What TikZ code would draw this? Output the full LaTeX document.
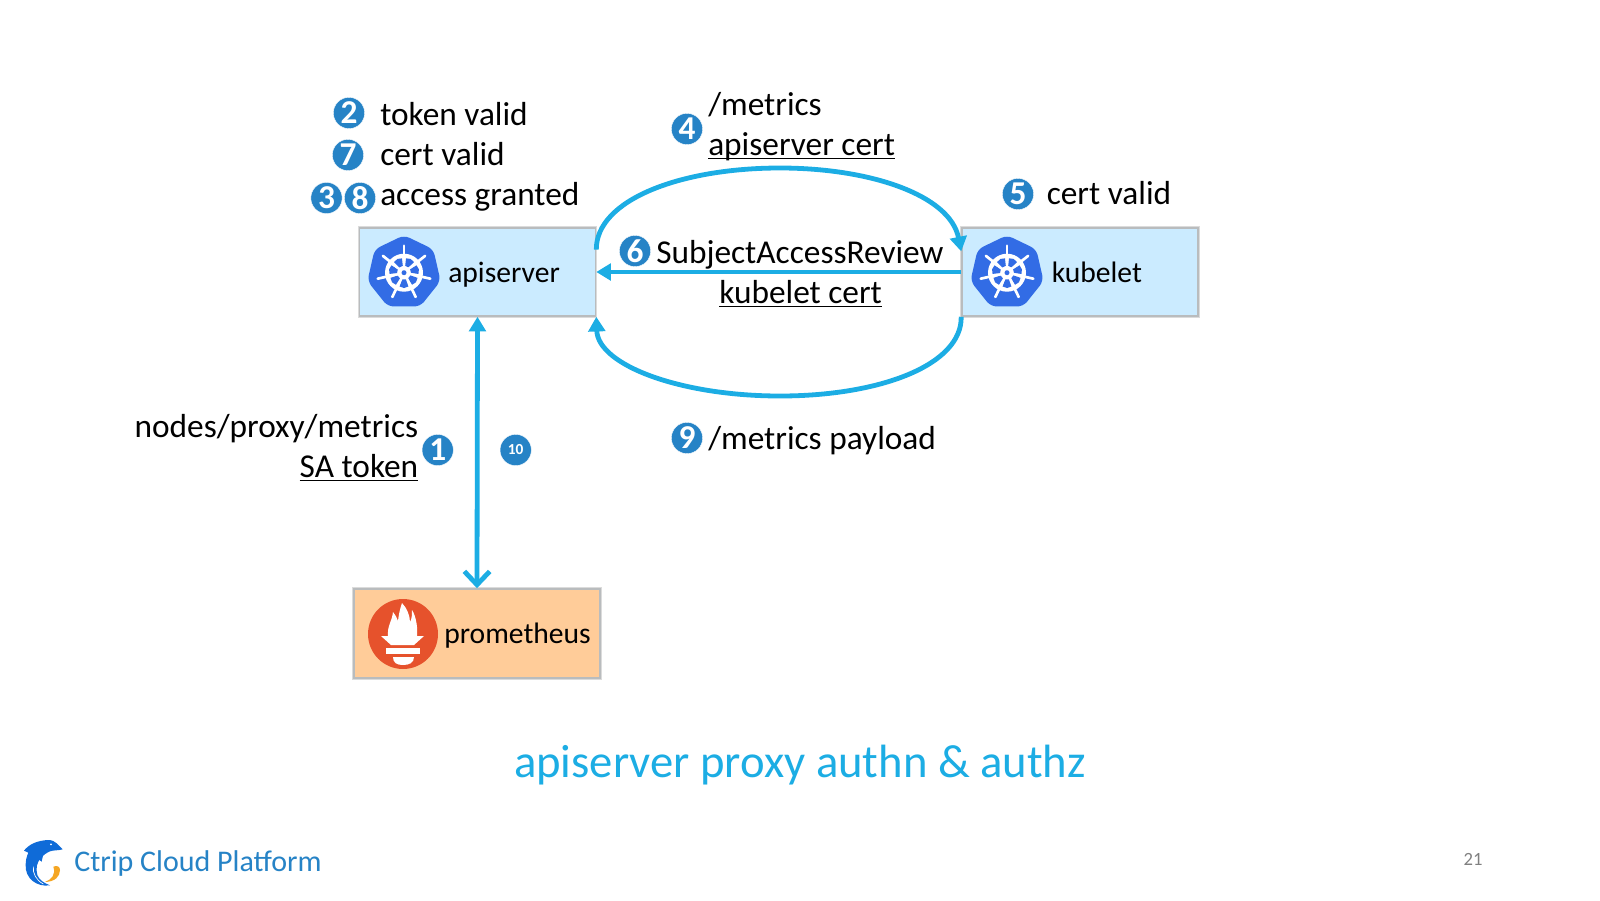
\documentclass[tikz,border=0pt]{standalone}
\usepackage{fontspec}
\setmainfont{Carlito}
\usetikzlibrary{arrows.meta,calc}
\definecolor{arrowblue}{HTML}{1CADE4}
\definecolor{badgeblue}{HTML}{2683C6}
\definecolor{boxblue}{HTML}{CBEBFF}
\definecolor{boxorange}{HTML}{FFCC99}
\definecolor{kubeblue}{HTML}{326CE5}
\definecolor{promred}{HTML}{E6522C}
\definecolor{edgegrey}{HTML}{B9BCBE}
\definecolor{logoblue}{HTML}{0F6BD8}
\definecolor{logoorange}{HTML}{F5A623}
\newcommand{\ulbar}[1]{\setbox0\hbox{#1}\rlap{\rule[-3.2pt]{\wd0}{1.1pt}}\box0 }
\newcommand{\helmicon}[2]{%
\begin{scope}[shift={(#1,#2)}]
\fill[kubeblue,rounded corners=4.5pt] (-90:37.5)--(-38.57:37.5)--(12.86:37.5)--(64.29:37.5)--(115.71:37.5)--(167.14:37.5)--(218.57:37.5)--cycle;
\fill[white] (0,0) circle (19);
\foreach \a in {-90,-38.57,12.86,64.29,115.71,167.14,218.57}{
\draw[white,line width=2pt,line cap=round] (0,0)--(\a:27);
\fill[kubeblue] (\a+10:7)--(\a+8:14.5)--(\a+25.7:15.3)--(\a+43.4:14.5)--(\a+41.4:7)--cycle;
}
\fill[white] (0,0) circle (5.5);
\fill[kubeblue] (0,0) circle (2.5);
\end{scope}}
\tikzset{
 x=0.75pt,y=-0.75pt,
 label text/.style={anchor=base west,inner sep=0pt,font=\fontsize{25pt}{30pt}\selectfont,text=black},
 label right/.style={anchor=base east,inner sep=0pt,font=\fontsize{25pt}{30pt}\selectfont,text=black},
 box text/.style={anchor=base west,inner sep=0pt,font=\fontsize{22.2pt}{26pt}\selectfont,text=black},
 badge/.style={circle,fill=badgeblue,draw=white,line width=0.3pt,minimum size=23.5pt,inner sep=0pt,text=white,font=\fontsize{25pt}{25pt}\selectfont\bfseries},
 softedge/.style={preaction={draw=black!14,line width=2.8pt}},
 bluebox/.style={rectangle,softedge,draw=edgegrey,line width=1.2pt,fill=boxblue,inner sep=0pt,minimum width=177pt,minimum height=66pt},
 orangebox/.style={rectangle,softedge,draw=edgegrey,line width=1.2pt,fill=boxorange,inner sep=0pt,minimum width=184.5pt,minimum height=66.75pt},
 conn/.style={draw=arrowblue,line width=3.6pt},
 tri/.style={-{Triangle[length=11pt,width=12.5pt]}},
}
\begin{document}
\begin{tikzpicture}
\useasboundingbox (0,0) rectangle (1600,900);
\fill[white] (0,0) rectangle (1600,900);
% boxes
\node[bluebox] (api) at (477.5,272) {};
\node[bluebox] (kub) at (1080,272) {};
\node[orangebox] (prom) at (477,633.5) {};
\helmicon{404}{272.7}
\helmicon{1007}{272.7}
\node[box text] (apit) at (448,282.5) {apiserver};
\node[box text] (kubt) at (1051.5,282.5) {kubelet};
% prometheus icon
\fill[promred] (403,634) circle (35);
\fill[white] (388,637) .. controls (387,625) and (392,622) .. (393,612) .. controls (396,616) and (397,618) .. (398,621) .. controls (399,612) and (401,606) .. (402,603) .. controls (407,608) and (410,616) .. (410,622) .. controls (412,619) and (412,614) .. (412,610) .. controls (416,616) and (418,628) .. (417,637) -- cycle;
\fill[white] (381,636) -- (424,636) -- (414,645) -- (391,645) -- cycle;
\fill[white] (386,648) rectangle (420,654);
\fill[white] (393,657) -- (414,657) .. controls (414,663) and (409,665) .. (403,665) .. controls (397,665) and (393,663) .. (393,657) -- cycle;
\node[box text] (promt) at (444,643.5) {prometheus};
% connectors
\coordinate (topA) at ($(api.south east)!0.75!(api.north east)$);
\coordinate (topK) at ($(kub.south west)!0.73!(kub.north west)$);
\path[conn,tri] (topA) .. controls (596,200) and (680,168) .. (780,168) .. controls (870,168) and (950,195) .. (topK);
\path[conn,tri] (kub.south west) .. controls (962,365) and (880,396) .. (780,396) .. controls (680,396) and (598,365) .. (api.south east);
\path[conn,tri] (kub.west) -- (api.east);
\path[conn,{Triangle[length=11pt,width=12.5pt]}-{Straight Barb[length=10pt,width=19pt,line width=3.6pt]}] (api.south) -- (prom.north);
% texts
\node[badge] (b2) at (349,113) {2};
\node[badge] (b7) at (348,155) {7};
\node[badge] (b3) at (326.5,198) {3};
\node[badge] (b8) at (360,198) {8};
\node[badge] (b4) at (687,129) {4};
\node[badge] (b5) at (1018,194) {5};
\node[badge] (b6) at (635,251) {6};
\node[badge] (b9) at (687,438) {9};
\node[badge] (b1) at (437.7,450) {1};
\node[badge,font=\fontsize{11.5pt}{11.5pt}\selectfont\bfseries] (b10) at (515.7,450) {10};
\node[label text] (t2) at (380,125) {token valid};
\node[label text] (t7) at (380,165) {cert valid};
\node[label text] (t8) at (380,205) {access granted};
\node[label text] (t4a) at (708,115) {/metrics};
\node[label text] (t4b) at (708,155) {\ulbar{apiserver cert}};
\node[label text] (t5) at (1046.5,204) {cert valid};
\node[label text] (t6a) at (656,263) {SubjectAccessReview};
\node[label text] (t6b) at (719,303) {\ulbar{kubelet cert}};
\node[label text] (t9) at (708,449) {/metrics payload};
\node[label right] (t1a) at (418.5,437) {nodes/proxy/metrics};
\node[label right] (t1b) at (418.5,477) {\ulbar{SA token}};
\node[anchor=base,inner sep=0pt,font=\fontsize{35pt}{40pt}\selectfont,text=arrowblue] (title) at (800,777) {apiserver proxy authn \& authz};
% logo
\begin{scope}[shift={(0,810)},x=0.25pt,y=-0.25pt]
\fill[logoblue] (72,122) .. controls (85,105) and (110,90) .. (150,90) .. controls (165,92) and (175,105) .. (188,118) .. controls (175,122) and (160,120) .. (150,124) .. controls (140,128) and (130,135) .. (122,145) .. controls (112,155) and (106,175) .. (112,195) .. controls (118,210) and (130,218) .. (150,226) .. controls (110,232) and (75,205) .. (77,165) .. controls (77,150) and (80,140) .. (85,128) -- cycle;
\fill[logoblue] (105,140) -- (130,132) -- (125,155) -- cycle;
\fill[logoorange] (160,170) .. controls (172,165) and (180,170) .. (180,180) .. controls (180,200) and (165,215) .. (135,216) .. controls (155,208) and (168,195) .. (160,170) -- cycle;
\draw[white,line width=0.5pt] (100,170) .. controls (98,190) and (108,210) .. (130,222);
\fill[white] (153,103) circle (3);
\end{scope}
\node[anchor=base west,inner sep=0pt,font=\fontsize{22.5pt}{26pt}\selectfont,text=badgeblue] (foot) at (74,871) {Ctrip Cloud Platform};
\node[anchor=base,inner sep=0pt,font=\fontsize{14pt}{16pt}\selectfont,text=gray] (pg) at (1473,865) {21};
\end{tikzpicture}
\end{document}
